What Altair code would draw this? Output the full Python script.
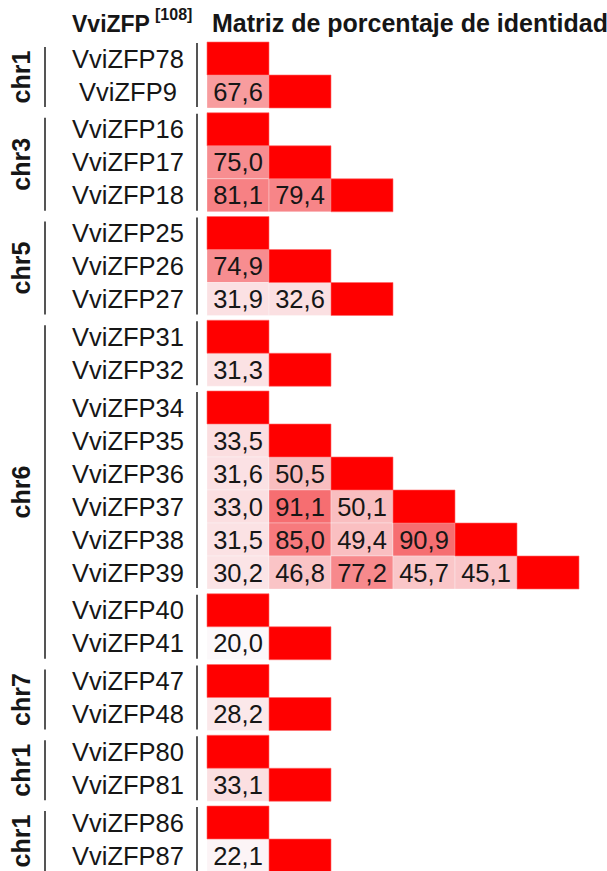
import altair as alt
import pandas as pd

# Chromosome of each block of paralogs, the genes in each block and the
# lower-triangle identity percentages (row i holds its i comparisons).
chrom = ["chr1", "chr3", "chr5", "chr6", "chr6", "chr6", "chr7", "chr1", "chr1"]
bracket = [0, 1, 2, 3, 3, 3, 4, 5, 6]
genes = [
    ["VviZFP78", "VviZFP9"],
    ["VviZFP16", "VviZFP17", "VviZFP18"],
    ["VviZFP25", "VviZFP26", "VviZFP27"],
    ["VviZFP31", "VviZFP32"],
    ["VviZFP34", "VviZFP35", "VviZFP36", "VviZFP37", "VviZFP38", "VviZFP39"],
    ["VviZFP40", "VviZFP41"],
    ["VviZFP47", "VviZFP48"],
    ["VviZFP80", "VviZFP81"],
    ["VviZFP86", "VviZFP87"],
]
identity = [
    [[67.6]],
    [[75.0], [81.1, 79.4]],
    [[74.9], [31.9, 32.6]],
    [[31.3]],
    [[33.5], [31.6, 50.5], [33.0, 91.1, 50.1], [31.5, 85.0, 49.4, 90.9],
     [30.2, 46.8, 77.2, 45.7, 45.1]],
    [[20.0]],
    [[28.2]],
    [[33.1]],
    [[22.1]],
]

# Layout in row units: one unit per gene row, a small gap between blocks.
W, H = 607, 871
TOP, ROW = 42, 33
LEFT, COL = 207, 62
GAP = 4.75 / ROW

cells, names, rules, brackets = [], [], [], {}
r = 0
for s, block in enumerate(genes):
    start = r + s * GAP
    for i, g in enumerate(block):
        p = r + s * GAP
        names.append({"gene": g, "pc": p + 0.5})
        for j in range(i + 1):
            if j == i:
                v, lab, diag = 100.0, "", True
            else:
                v = identity[s][i - 1][j]
                lab, diag = f"{v:.1f}".replace(".", ","), False
            cells.append({"gene": g, "p0": p, "p1": p + 1, "pc": p + 0.5,
                          "c0": j, "c1": j + 1, "cc": j + 0.5,
                          "value": v, "label": lab, "diag": diag})
        r += 1
    end = r + s * GAP
    rules.append({"p0": start + 0.03, "p1": end - 0.03})
    b = bracket[s]
    if b in brackets:
        brackets[b]["p1"] = end - 0.03
    else:
        brackets[b] = {"chrom": chrom[s], "p0": start + 0.15, "p1": end - 0.03}

cells = pd.DataFrame(cells)
names = pd.DataFrame(names)
rules = pd.DataFrame(rules)
brk = pd.DataFrame(list(brackets.values()))
brk["pc"] = (brk["p0"] + brk["p1"]) / 2

xs = alt.Scale(domain=[-LEFT / COL, (W - LEFT) / COL], nice=False, zero=False)
ys = alt.Scale(domain=[-TOP / ROW, (H - TOP) / ROW], nice=False, zero=False,
               reverse=True)
FONT = "Liberation Sans"
INK = "#161616"

off = alt.Chart(cells[~cells["diag"]]).mark_rect(
    stroke="white", strokeWidth=0.6, strokeOpacity=0.5
).encode(
    x=alt.X("c0:Q", scale=xs, axis=None), x2="c1",
    y=alt.Y("p0:Q", scale=ys, axis=None), y2="p1",
    color=alt.Color("value:Q", legend=None,
                    scale=alt.Scale(domain=[20, 91.1], interpolate="rgb",
                                    range=["#fcf8fa", "#f66e71"])),
)

diag = alt.Chart(cells[cells["diag"]]).mark_rect(
    color="#ff0000", stroke="#ff6a6a", strokeWidth=0.6
).encode(
    x=alt.X("c0:Q", scale=xs, axis=None), x2="c1",
    y=alt.Y("p0:Q", scale=ys, axis=None), y2="p1",
)

vals = alt.Chart(cells[~cells["diag"]]).mark_text(
    font=FONT, fontSize=25.5, color=INK, baseline="middle", dy=1
).encode(
    x=alt.X("cc:Q", scale=xs, axis=None),
    y=alt.Y("pc:Q", scale=ys, axis=None),
    text="label:N",
)

gene_txt = alt.Chart(names).mark_text(
    font=FONT, fontSize=25.5, color=INK, baseline="middle", align="center",
    dy=1
).encode(
    x=alt.value(128),
    y=alt.Y("pc:Q", scale=ys, axis=None),
    text="gene:N",
)

name_rule = alt.Chart(rules).mark_rule(color="#555555", strokeWidth=2).encode(
    x=alt.value(197),
    y=alt.Y("p0:Q", scale=ys, axis=None), y2="p1",
)

chr_rule = alt.Chart(brk).mark_rule(color="#555555", strokeWidth=2).encode(
    x=alt.value(45),
    y=alt.Y("p0:Q", scale=ys, axis=None), y2="p1",
)

chr_txt = alt.Chart(brk).mark_text(
    font=FONT, fontSize=25, fontWeight="bold", color=INK, angle=270,
    baseline="middle", align="center"
).encode(
    x=alt.value(22),
    y=alt.Y("pc:Q", scale=ys, axis=None),
    text="chrom:N",
)

head = pd.DataFrame({"t": ["VviZFP"]})
sup = pd.DataFrame({"t": ["[108]"]})
ttl = pd.DataFrame({"t": ["Matriz de porcentaje de identidad"]})

head_txt = alt.Chart(head).mark_text(
    font=FONT, fontSize=23, fontWeight="bold", color=INK, align="left",
    baseline="alphabetic"
).encode(x=alt.value(72), y=alt.value(32), text="t:N")

sup_txt = alt.Chart(sup).mark_text(
    font=FONT, fontSize=16, fontWeight="bold", color=INK, align="left",
    baseline="alphabetic"
).encode(x=alt.value(155), y=alt.value(20), text="t:N")

title_txt = alt.Chart(ttl).mark_text(
    font=FONT, fontSize=25, fontWeight="bold", color=INK, align="left",
    baseline="alphabetic"
).encode(x=alt.value(212), y=alt.value(32), text="t:N")

chart = alt.layer(
    off, diag, vals, gene_txt, name_rule, chr_rule, chr_txt,
    head_txt, sup_txt, title_txt
).properties(
    width=W, height=H, padding=0, autosize="none", background="white"
).configure_view(stroke=None)

chart.save("out.html", embed_options={"renderer": "svg", "actions": False})
